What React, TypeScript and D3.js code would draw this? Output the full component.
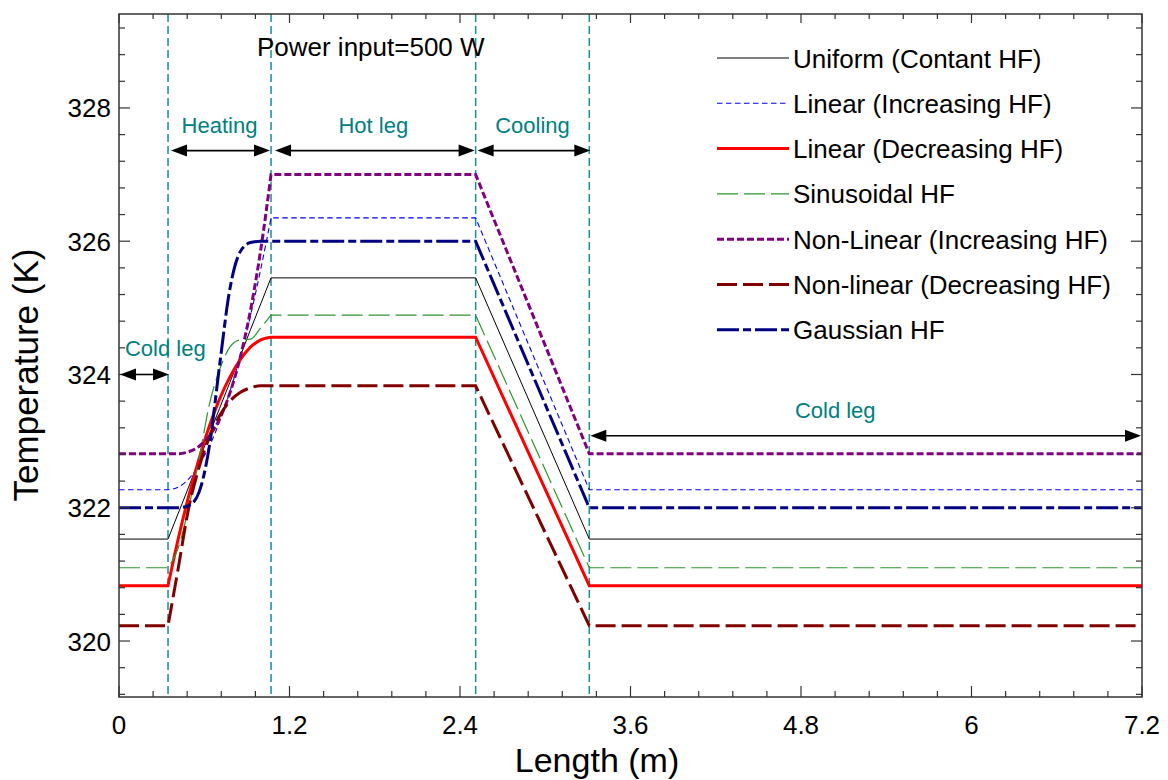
import React from 'react';
import * as d3 from 'd3';

// ---------- data ----------
// section boundaries along the loop (m): cold leg | heating | hot leg | cooling | cold leg
const sectionBounds = [0, 0.345, 1.07, 2.51, 3.31, 7.2];
// positions along the heating section where the profiles were read (m)
const heatingX = [0.345, 0.4175, 0.49, 0.5625, 0.635, 0.7075, 0.78, 0.8525, 0.925, 0.9975, 1.07];

// temperature (K) through the heating section for each heat-flux case
const uniformT = [321.53, 321.92, 322.31, 322.71, 323.1, 323.49, 323.88, 324.27, 324.67, 325.06, 325.45];
const linearIncT = [322.27, 322.31, 322.43, 322.64, 322.92, 323.29, 323.74, 324.27, 324.88, 325.58, 326.35];
const linearDecT = [320.83, 321.54, 322.17, 322.73, 323.22, 323.63, 323.96, 324.22, 324.41, 324.52, 324.56];
const sinusoidalT = [321.1, 321.4, 322.0, 322.72, 323.54, 324.07, 324.41, 324.52, 324.53, 324.7, 324.89];
const nonLinIncT = [322.81, 322.81, 322.84, 322.92, 323.08, 323.33, 323.72, 324.25, 324.96, 325.87, 327.0];
const nonLinDecT = [320.23, 321.1, 321.99, 322.6, 323.05, 323.38, 323.6, 323.73, 323.8, 323.83, 323.83];
const gaussianT = [322.0, 322.0, 322.03, 322.23, 322.91, 324.13, 325.28, 325.84, 325.98, 326.0, 326.0];

const seriesNames = [
  'Uniform (Contant HF)',
  'Linear (Increasing HF)',
  'Linear (Decreasing HF)',
  'Sinusoidal HF',
  'Non-Linear (Increasing HF)',
  'Non-linear (Decreasing HF)',
  'Gaussian HF',
];
const seriesTemps = [uniformT, linearIncT, linearDecT, sinusoidalT, nonLinIncT, nonLinDecT, gaussianT];

const xTicks = [0, 1.2, 2.4, 3.6, 4.8, 6, 7.2];
const xTickLabels = ['0', '1.2', '2.4', '3.6', '4.8', '6', '7.2'];
const yTicks = [320, 322, 324, 326, 328];
const yTickLabels = ['320', '322', '324', '326', '328'];

const xTitle = 'Length (m)';
const yTitle = 'Temperature (K)';
const powerLabel = 'Power input=500 W';
const sectionLabels = ['Heating', 'Hot leg', 'Cooling'];
const coldLegLabel = 'Cold leg';

// ---------- styles ----------
const styles = [
  { color: '#000000', width: 1, dash: '' },
  { color: '#0000ff', width: 1.1, dash: '5.5,3.5' },
  { color: '#ff0000', width: 3, dash: '' },
  { color: '#2e962e', width: 1.2, dash: '21,6' },
  { color: '#800080', width: 3, dash: '7,3' },
  { color: '#800000', width: 3, dash: '20,6' },
  { color: '#000080', width: 3, dash: '22,4,8,4' },
];
const TEAL = '#008080';
const FONT = '"Liberation Sans", Arial, Helvetica, sans-serif';

const W = 1168;
const H = 780;
const L = 119, R = 1142, T = 14, B = 697;

export default function App() {
  const x = d3.scaleLinear().domain([0, 7.2]).range([L, R]);
  const y = d3.scaleLinear().domain([319.16, 329.41]).range([B, T]);

  const heatLine = d3
    .line<number>()
    .x((_, i) => x(heatingX[i]))
    .y((d) => y(d))
    .curve(d3.curveMonotoneX);

  const seriesPath = (temps: number[]) => {
    const tc = temps[0];
    const th = temps[temps.length - 1];
    const h = heatLine(temps) || '';
    return (
      `M${x(sectionBounds[0])},${y(tc)}L${h.slice(1)}` +
      `L${x(sectionBounds[3])},${y(th)}L${x(sectionBounds[4])},${y(tc)}L${x(sectionBounds[5])},${y(tc)}`
    );
  };

  const xMinor = d3.range(0, 31).map((i) => +(i * 0.24).toFixed(2));
  const yMinor = d3.range(0, 26).map((i) => +(319.2 + i * 0.4).toFixed(2));
  const isMajorX = (v: number) => Math.abs(v / 1.2 - Math.round(v / 1.2)) < 1e-6;
  const isMajorY = (v: number) => Math.abs(v / 2 - Math.round(v / 2)) < 1e-6;

  const arrow = (x1: number, x2: number, yy: number, key: string) => {
    const hl = 16, hw = 6;
    return (
      <g key={key}>
        <line x1={x1 + hl - 2} x2={x2 - hl + 2} y1={yy} y2={yy} stroke="#000" strokeWidth={1.6} />
        <polygon points={`${x1},${yy} ${x1 + hl},${yy - hw} ${x1 + hl},${yy + hw}`} fill="#000" />
        <polygon points={`${x2},${yy} ${x2 - hl},${yy - hw} ${x2 - hl},${yy + hw}`} fill="#000" />
      </g>
    );
  };

  const topArrowY = y(327.36);
  const sectionMid = (i: number) => (x(sectionBounds[i]) + x(sectionBounds[i + 1])) / 2;

  const legendX1 = 717, legendX2 = 789, legendTextX = 793;
  const legendY = (i: number) => 58 + 45.3 * i;

  return (
    <svg
      width={W}
      height={H}
      style={{ position: 'absolute', left: 0, top: 0, background: '#fff' }}
      fontFamily={FONT}
    >
      <defs>
        <clipPath id="plotClip">
          <rect x={L} y={T} width={R - L} height={B - T} />
        </clipPath>
      </defs>
      <rect x={0} y={0} width={W} height={H} fill="#fff" />

      {/* section divider lines */}
      {sectionBounds.slice(1, 5).map((b, i) => (
        <line
          key={'v' + i}
          x1={x(b)}
          x2={x(b)}
          y1={T}
          y2={B}
          stroke="#1a8f8f"
          strokeWidth={1.5}
          strokeDasharray="8,4"
        />
      ))}

      {/* series */}
      <g clipPath="url(#plotClip)">
        {seriesTemps.map((temps, i) => (
          <path
            key={'s' + i}
            d={seriesPath(temps)}
            fill="none"
            stroke={styles[i].color}
            strokeWidth={styles[i].width}
            strokeDasharray={styles[i].dash || undefined}
          />
        ))}
      </g>

      {/* axis frame */}
      <rect x={L} y={T} width={R - L} height={B - T} fill="none" stroke="#333" strokeWidth={1.5} />

      {/* x ticks (bottom & top) */}
      {xMinor.map((v, i) => {
        const len = isMajorX(v) ? 11 : 6;
        const px = x(v);
        return (
          <g key={'xt' + i}>
            <line x1={px} x2={px} y1={B} y2={B - len} stroke="#333" strokeWidth={1.2} />
            <line x1={px} x2={px} y1={T} y2={T + (isMajorX(v) ? 9 : 5)} stroke="#333" strokeWidth={1.2} />
          </g>
        );
      })}
      {/* y ticks (left & right) */}
      {yMinor.map((v, i) => {
        const len = isMajorY(v) ? 11 : 6;
        const py = y(v);
        return (
          <g key={'yt' + i}>
            <line x1={L} x2={L + len} y1={py} y2={py} stroke="#333" strokeWidth={1.2} />
            <line x1={R} x2={R - len} y1={py} y2={py} stroke="#333" strokeWidth={1.2} />
          </g>
        );
      })}

      {/* tick labels */}
      {xTicks.map((v, i) => (
        <text key={'xl' + i} x={x(v)} y={734} fontSize={26} textAnchor="middle" fill="#000">
          {xTickLabels[i]}
        </text>
      ))}
      {yTicks.map((v, i) => (
        <text key={'yl' + i} x={111} y={y(v) + 9.5} fontSize={26} textAnchor="end" fill="#000">
          {yTickLabels[i]}
        </text>
      ))}

      {/* axis titles */}
      <text x={597} y={772} fontSize={34} textAnchor="middle" fill="#000">
        {xTitle}
      </text>
      <text
        transform={`translate(38,${375}) rotate(-90)`}
        fontSize={35}
        textAnchor="middle"
        fill="#000"
      >
        {yTitle}
      </text>

      {/* annotations */}
      <text x={x(0.971)} y={y(328.78)} fontSize={26} fill="#000">
        {powerLabel}
      </text>
      {sectionLabels.map((lab, i) => (
        <text
          key={'sl' + i}
          x={sectionMid(i + 1)}
          y={y(327.63)}
          fontSize={22}
          textAnchor="middle"
          fill={TEAL}
        >
          {lab}
        </text>
      ))}
      {arrow(x(sectionBounds[1]) + 3, x(sectionBounds[2]) - 1, topArrowY, 'a1')}
      {arrow(x(sectionBounds[2]) + 4, x(sectionBounds[3]) - 1, topArrowY, 'a2')}
      {arrow(x(sectionBounds[3]) + 2, x(sectionBounds[4]) + 1, topArrowY, 'a3')}
      {arrow(x(sectionBounds[0]) + 1, x(sectionBounds[1]) + 1, y(324.0), 'a4')}
      {arrow(x(sectionBounds[4]) + 1, x(sectionBounds[5]) - 1, y(323.08), 'a5')}
      <text x={x(0.042)} y={y(324.28)} fontSize={22} fill={TEAL}>
        {coldLegLabel}
      </text>
      <text x={x(4.757)} y={y(323.35)} fontSize={22} fill={TEAL}>
        {coldLegLabel}
      </text>

      {/* legend */}
      {seriesNames.map((name, i) => (
        <g key={'lg' + i}>
          <line
            x1={legendX1}
            x2={legendX2}
            y1={legendY(i)}
            y2={legendY(i)}
            stroke={styles[i].color}
            strokeWidth={styles[i].width}
            strokeDasharray={styles[i].dash || undefined}
          />
          <text x={legendTextX} y={legendY(i) + 9.5} fontSize={26} fill="#000">
            {name}
          </text>
        </g>
      ))}
    </svg>
  );
}
